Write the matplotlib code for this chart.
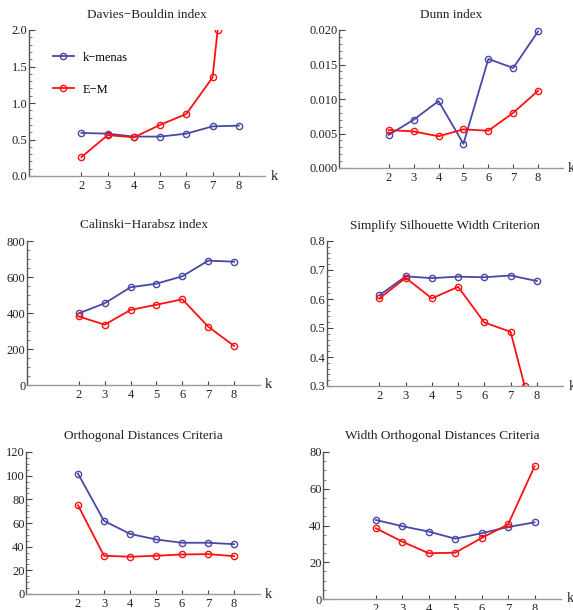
import matplotlib
matplotlib.use("Agg")
import matplotlib.pyplot as plt
import numpy as np
from matplotlib.ticker import MultipleLocator, FormatStrFormatter
from matplotlib.lines import Line2D

plt.rcParams['font.family'] = ['Liberation Serif', 'DejaVu Serif']

k = [2, 3, 4, 5, 6, 7, 8]
series_names = ["k\u2212menas", "E\u2212M"]

db_km = [0.59, 0.58, 0.54, 0.54, 0.58, 0.68, 0.69]
db_em = [0.26, 0.56, 0.53, 0.70, 0.85, 1.35, 4.7]
dunn_km = [0.0048, 0.0070, 0.0097, 0.0035, 0.0158, 0.0145, 0.0198]
dunn_em = [0.0055, 0.0053, 0.0046, 0.0056, 0.0054, 0.0080, 0.0112]
ch_km = [398, 454, 543, 563, 604, 691, 685]
ch_em = [381, 335, 417, 446, 476, 324, 217]
sil_km = [0.613, 0.678, 0.672, 0.677, 0.675, 0.681, 0.662]
sil_em = [0.602, 0.673, 0.602, 0.642, 0.519, 0.487, 0.14]
od_km = [101.7, 61.8, 50.8, 46.1, 43.3, 43.3, 42.1]
od_em = [75.0, 32.3, 31.5, 32.3, 33.4, 33.7, 32.0]
wod_km = [43.0, 39.6, 36.7, 32.8, 35.8, 39.2, 41.7]
wod_em = [38.5, 31.2, 24.9, 25.2, 33.2, 40.6, 72.2]

titles = ["Davies\u2212Bouldin index", "Dunn index",
          "Calinski\u2212Harabsz index", "Simplify Silhouette Width Criterion",
          "Orthogonal Distances Criteria", "Width Orthogonal Distances Criteria"]

W, H = 573, 610
fig = plt.figure(figsize=(W/100, H/100), dpi=100)

# (left, right, top, bottom) in pixels
rects = [(29, 265, 30, 176), (339, 563, 30, 168),
         (27, 260, 241, 385), (327, 563, 241, 386),
         (26, 260, 452, 594), (323, 561, 452, 599)]

panels = [
    (db_km, db_em, (0.0, 2.0), 0.5, 0.1, "%.1f"),
    (dunn_km, dunn_em, (0.0, 0.020), 0.005, 0.001, "%.3f"),
    (ch_km, ch_em, (0, 800), 200, 50, "%d"),
    (sil_km, sil_em, (0.3, 0.8), 0.1, 0.02, "%.1f"),
    (od_km, od_em, (0, 120), 20, 5, "%d"),
    (wod_km, wod_em, (0, 80), 20, 5, "%d"),
]

blue = '#4848a6'
red = '#ff1010'
axcol_y = '#555555'
axcol_x = '#999999'

for i, ((km, em, ylim, maj, mnr, fmt), (l, r, t, b)) in enumerate(zip(panels, rects)):
    ax = fig.add_axes([l/W, 1 - b/H, (r-l)/W, (b-t)/H])
    ax.set_xlim(0, 9)
    ax.set_ylim(*ylim)
    for s in ['top', 'right']:
        ax.spines[s].set_visible(False)
    ax.spines['left'].set_color(axcol_y)
    ax.spines['bottom'].set_color(axcol_x)
    ax.spines['left'].set_linewidth(1.0)
    ax.spines['bottom'].set_linewidth(1.0)
    ax.set_xticks(k)
    ax.yaxis.set_major_locator(MultipleLocator(maj))
    ax.yaxis.set_minor_locator(MultipleLocator(mnr))
    ax.yaxis.set_major_formatter(FormatStrFormatter(fmt))
    ax.tick_params(axis='y', which='major', direction='in', length=4, width=0.8,
                   color='#444444', labelsize=9, pad=1, labelcolor='#222222')
    ax.tick_params(axis='y', which='minor', direction='in', length=2, width=0.6,
                   color='#666666')
    ax.tick_params(axis='x', which='major', direction='in', length=3, width=0.8,
                   color='#444444', labelsize=9, pad=3, labelcolor='#222222')
    clip = i in (0, 3)
    ax.plot(k, km, color=blue, lw=1.3, marker='o', ms=4.5, mfc='none', mec=blue,
            mew=1.0, clip_on=clip, label=series_names[0])
    ax.plot(k, em, color=red, lw=1.3, marker='o', ms=4.5, mfc='none', mec=red,
            mew=1.0, clip_on=clip, label=series_names[1])
    if clip:
        # marker where the E-M line leaves the plot range
        edge = ylim[1] if em[-1] > ylim[1] else ylim[0]
        xe = np.interp(edge, sorted([em[-2], em[-1]]),
                       [k[-2], k[-1]] if em[-1] > em[-2] else [k[-1], k[-2]])
        ax.plot([xe], [edge], marker='o', ms=4.5, mfc='none', mec=red, mew=1.0,
                color=red, clip_on=True)
    ax.text(9.2, ylim[0], "k", fontsize=10.5, ha='left', va='center', color='#222222',
            clip_on=False)
    ax.set_title(titles[i], fontsize=9.5, pad=9, color='#222222')
    if i == 0:
        handles = [Line2D([], [], color=blue, lw=1.3, marker='o', ms=4.5, mfc='none',
                          mec=blue, mew=1.0),
                   Line2D([], [], color=red, lw=1.3, marker='o', ms=4.5, mfc='none',
                          mec=red, mew=1.0)]
        ax.legend(handles, series_names, loc='upper left',
                  bbox_to_anchor=(0.10, 0.852), frameon=False, fontsize=9,
                  handlelength=1.7, handletextpad=0.7, labelspacing=1.6,
                  borderpad=0, borderaxespad=0)

fig.savefig("out.png", dpi=100)
